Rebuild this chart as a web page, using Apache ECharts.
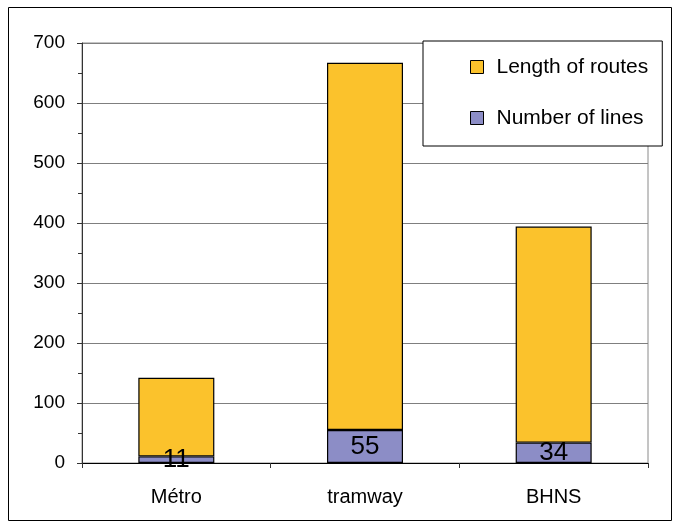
<!DOCTYPE html>
<html>
<head>
<meta charset="utf-8">
<script src="https://cdn.jsdelivr.net/npm/echarts@6/dist/echarts.min.js"></script>
<style>
  html, body { margin: 0; padding: 0; background: #fff; }
  #chart { width: 679px; height: 528px; }
</style>
</head>
<body>
<div id="chart"></div>
<script>
// Transport modes and their figures
const categories = ['Métro', 'tramway', 'BHNS'];
const numberOfLines = [11, 55, 34];
const lengthOfRoutes = [131, 612, 360];
const yTicks = { min: 0, max: 700, step: 100 };

const FONT = "'Liberation Sans', Arial, sans-serif";

const chart = echarts.init(document.getElementById('chart'), null, { renderer: 'canvas' });

chart.setOption({
  animation: false,
  backgroundColor: '#fff',
  textStyle: { fontFamily: FONT },
  graphic: [{
    type: 'rect',
    shape: { x: 8.5, y: 7.5, width: 663, height: 513 },
    style: { fill: 'none', stroke: '#000', lineWidth: 1 },
    silent: true,
    z: 0
  }],
  grid: {
    left: 82, right: 31, top: 43, bottom: 65,
    outerBoundsMode: 'none',
    show: true,
    borderColor: '#8a8a8a',
    borderWidth: 1,
    backgroundColor: 'transparent'
  },
  legend: {
    orient: 'vertical',
    left: 423, top: 41,
    padding: [14, 14, 16, 47],
    itemGap: 27,
    itemWidth: 13,
    itemHeight: 13,
    icon: 'rect',
    backgroundColor: '#fff',
    borderColor: '#000',
    borderWidth: 1,
    borderRadius: 0,
    data: ['Length of routes', 'Number of lines'],
    textStyle: { fontFamily: FONT, fontSize: 21, color: '#000', lineHeight: 24, padding: [0, 0, 0, 8] },
    itemStyle: { borderColor: '#000', borderWidth: 1 },
    z: 10
  },
  xAxis: {
    type: 'category',
    data: categories,
    axisLine: { lineStyle: { color: '#000', width: 1 } },
    axisTick: { show: true, alignWithLabel: false, length: 5, lineStyle: { color: '#333' } },
    axisLabel: { fontFamily: FONT, fontSize: 20, color: '#000', margin: 24 },
    splitLine: { show: false }
  },
  yAxis: {
    type: 'value',
    min: yTicks.min, max: yTicks.max, interval: yTicks.step,
    axisLine: { show: true, lineStyle: { color: '#333', width: 1 } },
    axisTick: { show: true, length: 5, lineStyle: { color: '#333' } },
    minorTick: { show: true, splitNumber: 2, length: 4, lineStyle: { color: '#333' } },
    axisLabel: { fontFamily: FONT, fontSize: 19, color: '#000', margin: 17 },
    splitLine: { show: true, lineStyle: { color: '#7f7f7f', width: 1 } }
  },
  series: [
    {
      name: 'Number of lines',
      type: 'bar',
      stack: 'total',
      barWidth: 76,
      data: numberOfLines,
      itemStyle: { color: '#8c8dc6', borderColor: '#000', borderWidth: 1.2 },
      label: {
        show: true,
        position: 'inside',
        fontFamily: FONT,
        fontSize: 26,
        color: '#000'
      },
      z: 3
    },
    {
      name: 'Length of routes',
      type: 'bar',
      stack: 'total',
      barWidth: 76,
      data: lengthOfRoutes,
      itemStyle: { color: '#fbc22c', borderColor: '#000', borderWidth: 1.2 },
      z: 2
    }
  ]
});
</script>
</body>
</html>
